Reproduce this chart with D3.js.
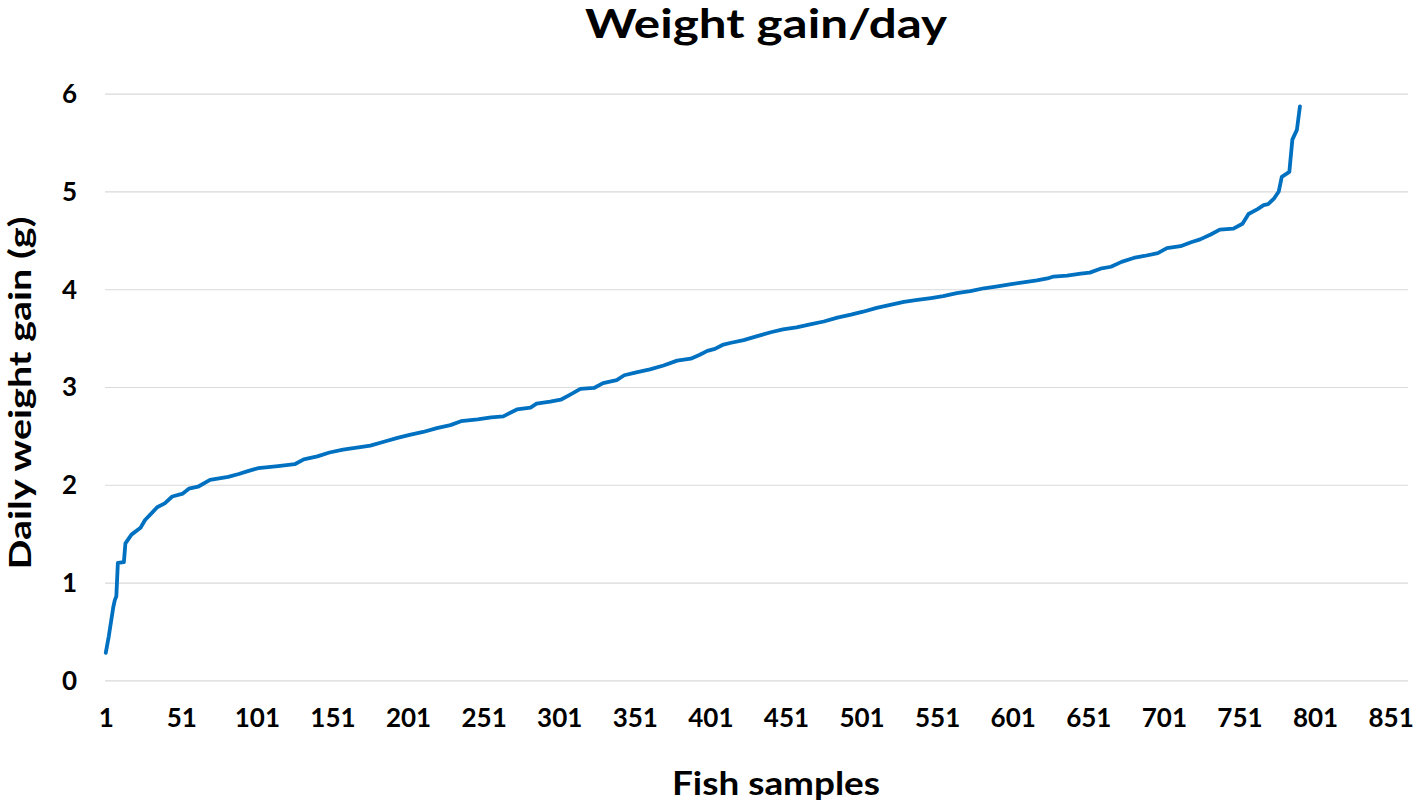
<!DOCTYPE html>
<html><head><meta charset="utf-8">
<script src="https://cdn.jsdelivr.net/npm/d3@7"></script>
<style>
body{margin:0;background:#fff}
text{font-family:Lato,"Open Sans",sans-serif;font-weight:700;fill:#000}
</style>
</head><body>
<svg id="c" width="1418" height="806"></svg>
<script>
// Sample numbers (x) and daily weight gain in g (y)
const sampleIdx = [1,3,4,6,7,8,9,13,14,18,24,27,32,35,40,45,52,56,62,70,82,89,95,102,115,126,132,141,149,158,167,176,185,194,202,211,220,229,236,247,256,264,273,282,286,295,302,308,315,324,330,339,344,352,361,370,379,388,394,399,404,409,414,423,432,441,449,458,467,476,485,494,502,511,520,529,538,547,555,564,573,582,591,599,608,617,624,628,637,646,652,659,666,673,681,688,697,703,712,719,725,732,738,747,753,757,763,767,770,774,777,779,784,786,789,791];
const dailyGain = [0.28,0.45,0.55,0.75,0.82,0.86,1.20,1.21,1.40,1.49,1.56,1.64,1.72,1.77,1.81,1.88,1.91,1.96,1.98,2.05,2.08,2.11,2.14,2.17,2.19,2.21,2.26,2.29,2.33,2.36,2.38,2.40,2.44,2.48,2.51,2.54,2.58,2.61,2.65,2.67,2.69,2.70,2.77,2.79,2.83,2.85,2.87,2.92,2.98,2.99,3.04,3.07,3.12,3.15,3.18,3.22,3.27,3.29,3.33,3.37,3.39,3.43,3.45,3.48,3.52,3.56,3.59,3.61,3.64,3.67,3.71,3.74,3.77,3.81,3.84,3.87,3.89,3.91,3.93,3.96,3.98,4.01,4.03,4.05,4.07,4.09,4.11,4.13,4.14,4.16,4.17,4.21,4.23,4.28,4.32,4.34,4.37,4.42,4.44,4.48,4.51,4.56,4.61,4.62,4.67,4.77,4.82,4.86,4.87,4.93,5.00,5.15,5.20,5.53,5.63,5.87];
const xTickValues = [1,51,101,151,201,251,301,351,401,451,501,551,601,651,701,751,801,851];
const yTickValues = [0,1,2,3,4,5,6];
const nCategories = 862;
const chartTitle = "Weight gain/day";
const xTitle = "Fish samples";
const yTitle = "Daily weight gain (g)";

const svg = d3.select("#c");
const plot = {left:105, right:1408, top:93.7, bottom:680.3};

const x = d3.scaleLinear().domain([0.5, nCategories + 0.5]).range([plot.left, plot.right]);
const y = d3.scaleLinear().domain([0, 6]).range([plot.bottom, plot.top]);

// gridlines
const gy = svg.append("g").attr("transform", `translate(${plot.left},0)`)
  .call(d3.axisLeft(y).tickValues(yTickValues).tickSize(-(plot.right - plot.left)).tickFormat(""));
gy.select(".domain").remove();
gy.selectAll(".tick line").attr("stroke", "#d9d9d9").attr("stroke-width", 1.2);
gy.selectAll(".tick text").remove();

// y labels
svg.append("g").selectAll("text").data(yTickValues).join("text")
  .attr("x", 77).attr("y", d => y(d)).attr("dy", "0.36em")
  .attr("text-anchor", "end").style("font-size", "26px")
  .text(d3.format("d"));

// x labels
const gx = svg.append("g").attr("transform", `translate(0,${plot.bottom})`)
  .call(d3.axisBottom(x).tickValues(xTickValues).tickSize(0).tickPadding(28).tickFormat(d3.format("d")));
gx.select(".domain").remove();
gx.selectAll(".tick text").style("font-size", "26px").attr("fill", "#000");

// line
const data = sampleIdx.map((s, i) => ({s, v: dailyGain[i]}));
svg.append("path").datum(data)
  .attr("fill", "none").attr("stroke", "#0070c0").attr("stroke-width", 3.8)
  .attr("stroke-linejoin", "round").attr("stroke-linecap", "round")
  .attr("d", d3.line().x(d => x(d.s)).y(d => y(d.v)));

// titles
svg.append("text").attr("x", 766).attr("y", 38).attr("text-anchor", "middle")
  .attr("textLength", 362).attr("lengthAdjust", "spacingAndGlyphs")
  .style("font-size", "40px").text(chartTitle);
svg.append("text").attr("x", 776).attr("y", 795).attr("text-anchor", "middle")
  .attr("textLength", 208).attr("lengthAdjust", "spacingAndGlyphs")
  .style("font-size", "32px").text(xTitle);
svg.append("text").attr("transform", "translate(31,393) rotate(-90)").attr("text-anchor", "middle")
  .attr("textLength", 353).attr("lengthAdjust", "spacingAndGlyphs")
  .style("font-size", "31px").text(yTitle);
</script>
</body></html>
